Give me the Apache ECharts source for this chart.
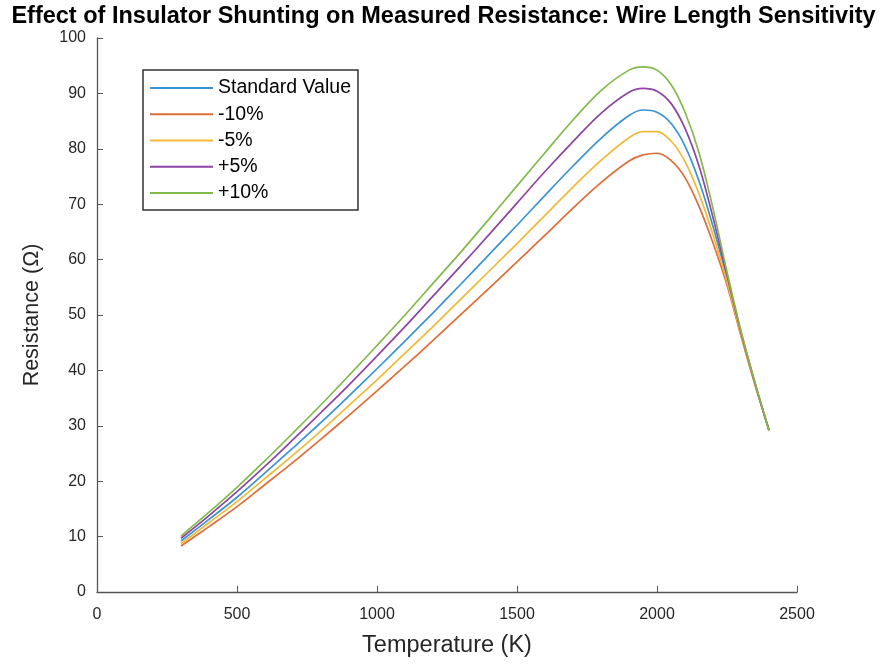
<!DOCTYPE html>
<html>
<head>
<meta charset="utf-8">
<title>Insulator shunting</title>
<script src="https://cdn.jsdelivr.net/npm/echarts@6/dist/echarts.min.js"></script>
<style>
  html, body { margin: 0; padding: 0; background: #fff; }
  #chart { width: 887px; height: 664px; }
</style>
</head>
<body>
<div id="chart"></div>
<script>
// temperature samples (K)
const temps = [300, 400, 500, 600, 700, 800, 900, 1000, 1100, 1200, 1300, 1400, 1500, 1600, 1700, 1800, 1900, 1950, 2000, 2050, 2100, 2150, 2200, 2250, 2300, 2350, 2400];

// measured resistance (Ohm)
const standardVals = [9.2, 13.1, 17.1, 21.5, 26.0, 30.6, 35.4, 40.3, 45.3, 50.4, 55.6, 60.9, 66.2, 71.6, 76.9, 81.9, 86.0, 87.0, 86.6, 84.6, 80.5, 74.2, 66.0, 56.6, 46.7, 37.6, 29.2];
const minus10Vals = [8.3, 11.8, 15.4, 19.4, 23.4, 27.6, 31.9, 36.3, 40.8, 45.4, 50.1, 54.8, 59.6, 64.4, 69.3, 73.9, 77.8, 78.9, 79.2, 77.9, 74.8, 69.6, 63.0, 55.4, 46.2, 37.4, 29.2];
const minus5Vals = [8.7, 12.5, 16.3, 20.5, 24.7, 29.1, 33.7, 38.3, 43.1, 47.9, 52.9, 57.9, 62.9, 68.0, 73.1, 77.9, 82.0, 83.1, 83.1, 81.4, 77.7, 71.9, 64.5, 56.0, 46.5, 37.5, 29.2];
const plus5Vals = [9.7, 13.8, 18.1, 22.7, 27.5, 32.4, 37.4, 42.6, 47.9, 53.4, 58.9, 64.5, 70.2, 75.9, 81.3, 86.4, 90.2, 90.9, 90.4, 88.2, 83.7, 76.9, 67.6, 57.2, 46.9, 37.7, 29.2];
const plus10Vals = [10.1, 14.4, 18.9, 23.7, 28.7, 33.8, 39.1, 44.5, 50.0, 55.7, 61.4, 67.3, 73.3, 79.3, 85.2, 90.5, 94.2, 94.8, 94.2, 91.6, 86.6, 79.3, 69.2, 57.8, 47.1, 37.8, 29.2];

const seriesNames = ['Standard Value', '-10%', '-5%', '+5%', '+10%'];
const seriesVals = [standardVals, minus10Vals, minus5Vals, plus5Vals, plus10Vals];
const colors = ['#3a93d4', '#df6d38', '#efba38', '#8e44a2', '#83b94c'];

const xTicks = [0, 500, 1000, 1500, 2000, 2500];
const yTicks = [0, 10, 20, 30, 40, 50, 60, 70, 80, 90, 100];

var chart = echarts.init(document.getElementById('chart'));

var series = seriesNames.map(function (name, i) {
    return {
        name: name,
        type: 'line',
        data: temps.map(function (t, j) { return [t, seriesVals[i][j]]; }),
        showSymbol: false,
        symbol: 'none',
        smooth: 0.35,
        lineStyle: { color: colors[i], width: 1.7 },
        itemStyle: { color: colors[i] },
        emphasis: { disabled: true }
    };
});

// tick labels are tall and narrow in the original
var tickFont = { color: '#262626', fontFamily: '"Liberation Sans Narrow", "Liberation Sans", sans-serif', fontSize: 16 };

var option = {
    animation: false,
    backgroundColor: '#fff',
    color: colors,
    title: {
        text: 'Effect of Insulator Shunting on Measured Resistance: Wire Length Sensitivity',
        left: 'center',
        top: 0,
        textStyle: { fontFamily: 'Liberation Sans', fontWeight: 'bold', fontSize: 23.5, color: '#000' }
    },
    legend: {
        orient: 'vertical',
        left: 143,
        top: 70,
        data: seriesNames,
        icon: 'rect',
        itemWidth: 63,
        itemHeight: 2,
        itemGap: 6.25,
        padding: [8, 7, 7, 7],
        backgroundColor: '#fff',
        borderColor: '#333',
        borderWidth: 1.5,
        textStyle: { fontFamily: 'Liberation Sans', fontSize: 19.5, lineHeight: 20, color: '#000' }
    },
    grid: { left: 97, right: 90, top: 38, bottom: 72, containLabel: false },
    xAxis: {
        type: 'value',
        min: xTicks[0],
        max: xTicks[xTicks.length - 1],
        interval: 500,
        name: 'Temperature (K)',
        nameLocation: 'middle',
        nameGap: 42,
        nameTextStyle: { fontFamily: 'Liberation Sans', fontSize: 23.5, color: '#262626' },
        axisLine: { lineStyle: { color: '#555', width: 1.3 } },
        axisTick: { inside: true, length: 6, lineStyle: { color: '#555' } },
        axisLabel: Object.assign({
            margin: 15,
            formatter: function (v) { return String(v); }
        }, tickFont),
        splitLine: { show: false }
    },
    yAxis: {
        type: 'value',
        min: yTicks[0],
        max: yTicks[yTicks.length - 1],
        interval: 10,
        name: 'Resistance (Ω)',
        nameLocation: 'middle',
        nameGap: 54,
        nameTextStyle: { fontFamily: 'Liberation Sans', fontSize: 21.5, color: '#262626' },
        axisLine: { show: true, lineStyle: { color: '#555', width: 1.3 } },
        axisTick: { show: true, inside: true, length: 6, lineStyle: { color: '#555' } },
        axisLabel: Object.assign({ margin: 11 }, tickFont),
        splitLine: { show: false }
    },
    series: series
};

chart.setOption(option);
</script>
</body>
</html>
